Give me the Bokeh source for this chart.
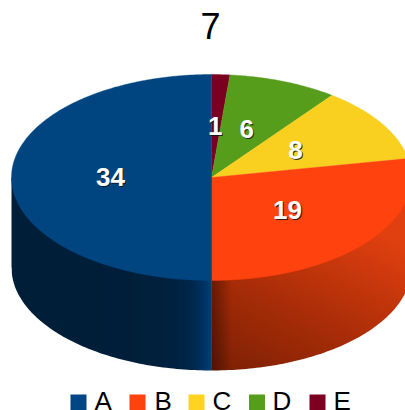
import math
from bokeh.plotting import figure
from bokeh.models import Range1d
from bokeh.core.properties import value
from bokeh.embed import file_html
from bokeh.resources import INLINE

title = "7"
categories = ["A", "B", "C", "D", "E"]
values = [34, 19, 8, 6, 1]
colors = ["#004586", "#ff420e", "#ffd320", "#579d1c", "#7e0021"]
top_colors = ["#004480", "#ff420e", "#f9cf20", "#579d1c", "#7a0021"]

CX, CY, RX, RY, DEPTH = 211.0, 177.0, 200.0, 103.0, 90.0
LEFT, TOP, RIGHT, BOTTOM = 0, 0, 405, 410
FONT = value("Liberation Sans")

p = figure(width=RIGHT - LEFT, height=BOTTOM - TOP, output_backend="svg", toolbar_location=None,
           x_range=Range1d(LEFT, RIGHT), y_range=Range1d(BOTTOM, TOP),
           min_border=0, outline_line_color=None, background_fill_color="white")
p.axis.visible = False
p.grid.visible = False


def hex_rgb(h):
    return [int(h[i:i + 2], 16) for i in (1, 3, 5)]


def mix(a, b, t):
    t = max(0.0, min(1.0, t))
    return [a[i] + (b[i] - a[i]) * t for i in range(3)]


def css(c):
    return "#%02x%02x%02x" % tuple(int(round(max(0, min(255, v)))) for v in c)


def ellipse_lower(x):
    return CY + RY * math.sqrt(max(0.0, 1 - ((min(x, CX + RX) - CX) / RX) ** 2))


# side wall, left half (strips overlap so no seams show)
B_DARK, B_LIGHT = hex_rgb("#001e38"), hex_rgb("#003c74")
xl, xr, yt, yb, col = [], [], [], [], []
x = 11
while x < CX:
    u = CX - (x + 0.5)
    xl.append(x); xr.append(min(x + 2, CX))
    yt.append(CY); yb.append(ellipse_lower(x + 2) + DEPTH + 2)
    col.append(css(mix(B_DARK, B_LIGHT, math.exp(-u / 12.0) * 0.9 + 0.28 * math.exp(-u / 45.0))))
    x += 1
p.quad(left=xl, right=xr, top=yt, bottom=yb, fill_color=col, line_color=None)

# side wall, right half
O0, O1, O2 = hex_rgb("#7a2005"), hex_rgb("#ac2e08"), hex_rgb("#e04010")
xl, xr, yt, yb, col = [], [], [], [], []
x = int(CX)
while x < RIGHT:
    w = 1 if x < 240 else 2
    y = int(ellipse_lower(x + w)) - 4
    end = ellipse_lower(x) + DEPTH + 2
    while y < end:
        g = ((x + w / 2 - CX) * 0.0034 + (CY + 193 - y) * 0.0067) / 1.5
        c = mix(O0, O1, g * 2) if g < 0.5 else mix(O1, O2, (g - 0.5) * 2)
        shade = 0.62 + 0.38 * min(1.0, (x + w / 2 - CX) / 20.0)
        xl.append(x); xr.append(x + w + 1); yt.append(y); yb.append(y + 4)
        col.append(css([v * shade for v in c]))
        y += 3
    x += w
p.quad(left=xl, right=xr, top=yt, bottom=yb, fill_color=col, line_color=None)

# white mask below the lower rim
mx = [CX + RX * math.cos(math.pi * i / 180) for i in range(0, 181)]
my = [CY + DEPTH + RY * math.sin(math.pi * i / 180) for i in range(0, 181)]
p.patch(mx + [CX - RX - 20, CX - RX - 20, CX + RX + 20, CX + RX + 20],
        my + [my[-1], BOTTOM + 5, BOTTOM + 5, my[0]],
        fill_color="white", line_color=None)

# top face, clockwise from twelve o'clock: E, D, C, B, A
total = sum(values)
cum = 0
label_pos = {}
for i in range(len(values) - 1, -1, -1):
    a0 = cum / total * 2 * math.pi
    cum += values[i]
    a1 = cum / total * 2 * math.pi
    n = max(3, int((a1 - a0) / 0.01))
    xs = [CX] + [CX + RX * math.sin(a0 + (a1 - a0) * k / n) for k in range(n + 1)]
    ys = [CY] + [CY - RY * math.cos(a0 + (a1 - a0) * k / n) for k in range(n + 1)]
    p.patch(xs, ys, fill_color=top_colors[i], line_color=top_colors[i], line_width=0.4)
    am = (a0 + a1) / 2
    label_pos[i] = (CX + 0.5 * RX * math.sin(am) - 1, CY - 0.5 * RY * math.cos(am) - 0.5)

# value labels with a thin shadow
lx = [label_pos[i][0] for i in range(len(values))]
ly = [label_pos[i][1] for i in range(len(values))]
lt = [str(v) for v in values]
p.text(x=[v + 1 for v in lx], y=[v + 1 for v in ly], text=lt, text_color="#111111", text_alpha=0.85,
       text_font=FONT, text_font_style="bold", text_font_size="26px",
       text_align="center", text_baseline="middle")
p.text(x=lx, y=ly, text=lt, text_color="white",
       text_font=FONT, text_font_style="bold", text_font_size="26px",
       text_align="center", text_baseline="middle")

# title
p.text(x=[210], y=[25], text=[title], text_color="black", text_font=FONT,
       text_font_size="36px", text_align="center", text_baseline="middle")

# legend
sq_x = [70, 129, 188, 248.5, 309]
tx_x = [94, 154, 212, 272, 333]
p.quad(left=sq_x, right=[v + 16 for v in sq_x], top=[394] * 5, bottom=[410] * 5,
       fill_color=colors, line_color=None)
p.text(x=tx_x, y=[400] * 5, text=categories, text_color="black", text_font=FONT,
       text_font_size="26px", text_align="left", text_baseline="middle")

open("out.html", "w").write(file_html(p, INLINE))
